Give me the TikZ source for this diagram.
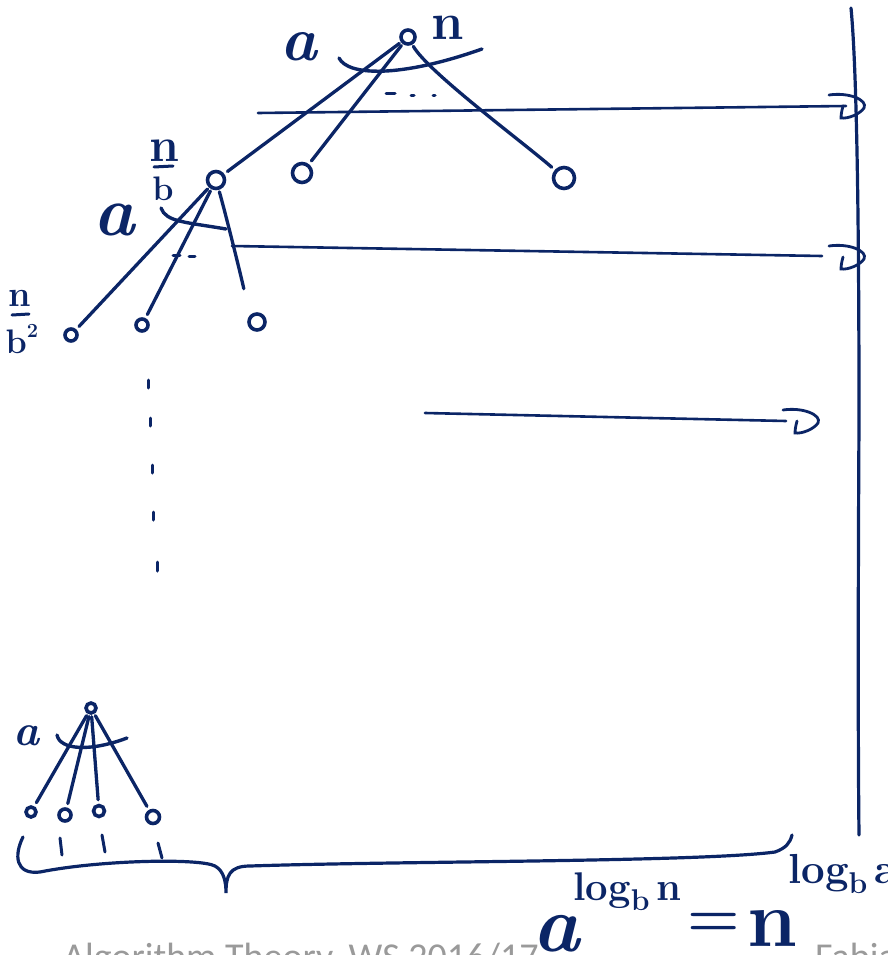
\documentclass[tikz,border=0pt]{standalone}
\usepackage{fontspec}
\usetikzlibrary{positioning}
\usetikzlibrary{calc}
\definecolor{ink}{HTML}{0B2566}
\definecolor{footgrey}{HTML}{9A9A9A}
\newfontfamily\footerfont{Carlito}
\newcommand\lowb[1]{\raisebox{-0.25em}{\fontsize{#1}{#1}\selectfont b}}
\tikzset{
  % a hand-drawn vertex of the recursion tree
  vtx/.style={draw=ink, circle, line width=3.6pt, inner sep=0pt, minimum size=#1},
  % tree edges
  edge/.style={draw=ink, line width=3.3pt, line cap=round, shorten <=2pt, shorten >=4pt},
  % the arc that groups the a children
  fan/.style={draw=ink, line width=3.4pt, line cap=round},
  % cost of one level, carried to the right
  lvl/.style={draw=ink, line width=2.6pt, line cap=round},
  % the running sum on the right and the brace below
  spine/.style={draw=ink, line width=3.2pt, line cap=round},
  % small pen strokes (dots, ticks, fraction bars)
  tick/.style={draw=ink, line width=3pt, line cap=round},
  % handwritten labels
  hw/.style={text=ink, inner sep=0pt, font=#1\bfseries},
  foot/.style={text=footgrey, inner sep=0pt, font=\footerfont\fontsize{38}{38}\selectfont},
  % the hooked end of a level arrow
  dmark/.pic={\draw[ink, line width=2.8pt, line cap=round]
    (-17,-11) .. controls (3,-14) and (22,-6) .. (18,2)
    .. controls (14,8) and (2,13) .. (-5,12)
    .. controls (-5,8) and (-4,4) .. (-3,0);},
}

\begin{document}
\begin{tikzpicture}[x=1pt, y=-1pt]
\useasboundingbox (0,0) rectangle (888,955);
\clip (0,0) rectangle (888,955);

% slide footer, cut off by the frame
\node[foot, anchor=base west] (ftl) at (63,969) {Algorithm Theory, WS 2016/17};
\node[foot, anchor=base west] (ftr) at (815,969) {Fabian Kuhn};

% level 0
\node[vtx=14pt] (r) at (408,37) {};
\node[hw={\fontsize{62}{62}\selectfont\itshape}] (ra) at (299,47) {a};
\node[hw={\fontsize{52}{52}\selectfont}] (rn) at (448,28) {n};

% level 1
\node[vtx=17pt] (c1) at (216,180) {};
\node[vtx=19pt] (c2) at (302,173) {};
\node[vtx=21pt] (c3) at (564,178) {};
\node[hw={\fontsize{48}{48}\selectfont}] (c1n) at (164,151) {n};
\node[hw={\fontsize{34}{34}\selectfont}] (c1b) at (163,189) {b};
\draw[tick] (154,167) -- (173,166);
\node[hw={\fontsize{70}{70}\selectfont\itshape}] (c1a) at (114,220) {a};

\draw[edge] (r) -- (c1);
\draw[edge] (r) -- (c2);
\draw[edge] (r) .. controls +(20,35) and +(-40,-35) .. (c3);
\draw[fan] (339,58) .. controls (348,76) and (400,78) .. (482,49);
\draw[tick] (386,94) -- (395,94) (411,96) -- (414,96) (433,96) -- (435,96);

% level 2
\node[vtx=12pt] (g1) at (71,335) {};
\node[vtx=12pt] (g2) at (142,325) {};
\node[vtx=16pt] (g3) at (257,322) {};
\node[hw={\fontsize{36}{36}\selectfont}] (g1n) at (20,298) {n};
\node[hw={\fontsize{34}{34}\selectfont}] (g1b) at (22,339) {b\raisebox{0.45em}{\fontsize{20}{20}\selectfont 2}};
\draw[tick] (12,315) -- (29,314);

\draw[edge] (c1) -- (g1);
\draw[edge] (c1) -- (g2);
\draw[edge, shorten >=26pt] (c1) .. controls +(10,35) and +(-12,-30) .. (g3);
\draw[fan] (161,208) .. controls (166,222) and (185,222) .. (226,229);
\draw[tick] (173,255) -- (180,255) (189,256) -- (195,256);

% levels further down
\draw[tick] (148,380) -- (148,388) (150,418) -- (150,426) (152,465) -- (152,473)
            (153,512) -- (153,520) (157,562) -- (157,571);

% last level
\node[vtx=10pt] (br) at (91,708) {};
\node[hw={\fontsize{44}{44}\selectfont\itshape}] (bra) at (27,736) {a};
\node[vtx=10pt] (l1) at (31,812) {};
\node[vtx=12pt] (l2) at (65,815) {};
\node[vtx=11pt] (l3) at (99,811) {};
\node[vtx=13pt] (l4) at (153,817) {};
\draw[edge] (br) -- (l1);
\draw[edge] (br) -- (l2);
\draw[edge] (br) -- (l3);
\draw[edge] (br) -- (l4);
\draw[fan] (57,735) .. controls (60,750) and (90,752) .. (127,738);
\draw[tick] (60,838) -- (62,855) (102,835) -- (105,852) (158,843) -- (162,858);

% brace under the leaves
\draw[spine] (23,837) .. controls (14,855) and (15,875) .. (40,872)
  .. controls (100,860) and (200,858) .. (215,866)
  .. controls (224,871) and (226,882) .. (226,893)
  .. controls (226,876) and (229,866) .. (250,866)
  .. controls (400,861) and (700,862) .. (775,852)
  .. controls (786,848) and (790,843) .. (792,835);

% level costs
\coordinate (l1s) at (258,113);
\coordinate (l1e) at (846,106);
\coordinate (l2s) at (232,246);
\coordinate (l2e) at (822,256);
\coordinate (m2) at (846,257);
\coordinate (l3s) at (425,413);
\coordinate (l3e) at (786,421);
\coordinate (m3) at (800,421);
\draw[lvl] (l1s) -- (l1e);
\pic at (l1e) {dmark};
\draw[lvl] (l2s) -- (l2e);
\pic at (m2) {dmark};
\draw[lvl] (l3s) -- (l3e);
\pic at (m3) {dmark};

% the running sum
\coordinate (top) at (851,8);
\coordinate (bot) at (859,835);
\draw[spine] (top) .. controls (855,50) and (859,150) .. (859,420)
  .. controls (858,600) and (858,750) .. (bot);

% number of leaves
\node[hw={\fontsize{80}{80}\selectfont\itshape}] (fa) at (556,934) {a};
\node[hw={\fontsize{40}{40}\selectfont}, anchor=west] (fe1) at (573,892) {log\lowb{30}\,n};
\node[hw={\fontsize{60}{60}\selectfont}] (feq) at (714,925) {=};
\node[hw={\fontsize{80}{80}\selectfont}] (fn) at (772,928) {n};
\node[hw={\fontsize{42}{42}\selectfont}, anchor=west] (fe2) at (788,874) {log\lowb{30}\,a};

\end{tikzpicture}
\end{document}
